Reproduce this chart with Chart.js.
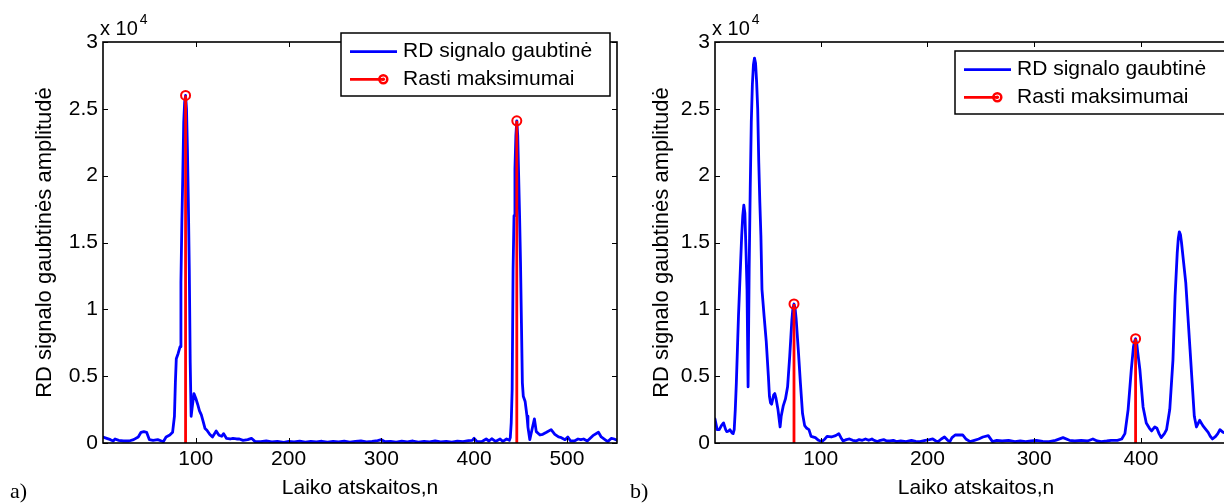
<!DOCTYPE html>
<html><head><meta charset="utf-8">
<script src="https://cdn.jsdelivr.net/npm/chart.js@4.4.0/dist/chart.umd.min.js"></script>
<style>
html,body{margin:0;padding:0;overflow:hidden;background:#fff;width:1224px;height:504px;position:relative;}
#c1{position:absolute;left:0;top:0;}
#c2{position:absolute;left:620px;top:0;}
</style></head><body>
<canvas id="c1" width="620" height="504"></canvas>
<canvas id="c2" width="622" height="504"></canvas>
<script>
// ---- data (amplitude in units of 10^4) ----
const nA = [0,4,8,11,13,17,22,28,33,38,41,44,47,50,54,59,63,65,68,72,75,77,78,79,81,83,84,85,86,87,88,89,90,91,92,93,94,95,96,98,100,102,104,106,108,110,112,115,118,122,125,128,130,133,137,140,144,147,151,156,160,164,170,176,182,188,195,200,206,212,218,224,230,236,242,248,254,260,266,272,278,284,290,296,300,304,310,316,322,328,334,340,346,352,358,364,370,376,382,388,394,398,400,403,408,413,416,419,423,428,431,435,438,439,440,441,442,443,444,445,446,447,448,449,450,451,452,453,455,457,458,460,463,465,467,471,474,478,483,487,491,494,498,501,504,508,512,515,518,522,528,534,537,541,544,548,551,554];
const envA = [0.045,0.035,0.025,0.015,0.03,0.02,0.015,0.015,0.025,0.045,0.08,0.085,0.08,0.025,0.02,0.025,0.015,0.01,0.045,0.06,0.08,0.2,0.45,0.63,0.67,0.72,1.2,1.65,2.0,2.4,2.55,2.6,2.5,2.2,1.8,1.3,0.6,0.2,0.26,0.37,0.335,0.29,0.24,0.21,0.16,0.108,0.095,0.065,0.045,0.09,0.058,0.05,0.07,0.035,0.03,0.035,0.03,0.03,0.02,0.025,0.035,0.01,0.01,0.015,0.008,0.012,0.005,0.012,0.008,0.014,0.006,0.012,0.008,0.013,0.006,0.012,0.008,0.014,0.006,0.012,0.015,0.008,0.012,0.018,0.025,0.01,0.012,0.006,0.014,0.008,0.015,0.006,0.012,0.008,0.015,0.008,0.012,0.006,0.014,0.01,0.018,0.02,0.035,0.012,0.01,0.03,0.015,0.032,0.012,0.03,0.012,0.03,0.02,0.04,0.15,0.4,1.3,1.7,2.05,2.3,2.41,2.3,2.0,1.7,1.35,0.9,0.45,0.35,0.31,0.2,0.12,0.025,0.12,0.18,0.085,0.06,0.065,0.08,0.1,0.065,0.045,0.04,0.025,0.045,0.015,0.015,0.03,0.025,0.03,0.015,0.055,0.08,0.045,0.025,0.01,0.035,0.03,0.02];
const peakNA = [89, 446];
const peakA = [2.6, 2.41];

const nB = [1,3,5,7,9,11,12,14,15,17,18,19,20,21,22,23,24,25,26,27,28,29,30,31,32,33,34,35,36,37,38,39,40,41,42,43,44,45,47,49,51,52,53,54,56,57,58,60,62,63,65,67,69,71,73,74,75,76,77,79,81,83,85,87,89,91,95,98,101,104,106,110,114,117,119,121,124,127,130,133,136,139,142,145,148,150,153,156,159,162,165,168,171,175,180,185,189,193,198,202,205,208,210,213,216,219,221,223,226,230,233,236,240,244,248,252,257,261,265,270,276,282,287,292,297,302,308,314,320,327,333,338,344,350,355,359,363,368,372,378,382,385,388,391,393,394,395,396,397,399,402,405,408,410,413,415,417,419,422,424,427,430,432,434,435,436,437,438,440,442,444,446,448,450,452,455,458,460,463,465,467,470,472,474,477,480];
const envB = [0.18,0.1,0.1,0.13,0.15,0.1,0.085,0.09,0.1,0.075,0.07,0.1,0.25,0.45,0.7,0.95,1.15,1.35,1.55,1.7,1.78,1.72,1.45,1.15,0.42,1.3,1.9,2.4,2.68,2.83,2.88,2.84,2.7,2.5,2.1,1.8,1.55,1.15,0.95,0.76,0.5,0.35,0.3,0.29,0.36,0.37,0.34,0.25,0.12,0.2,0.28,0.33,0.42,0.65,0.92,1.01,1.04,1.01,0.93,0.7,0.45,0.22,0.13,0.11,0.1,0.05,0.04,0.02,0.01,0.03,0.05,0.045,0.055,0.07,0.04,0.015,0.025,0.03,0.02,0.015,0.025,0.02,0.03,0.02,0.03,0.02,0.01,0.02,0.025,0.015,0.015,0.02,0.01,0.015,0.01,0.02,0.012,0.01,0.02,0.025,0.03,0.015,0.01,0.03,0.045,0.02,0.01,0.04,0.06,0.06,0.06,0.03,0.01,0.02,0.03,0.045,0.055,0.01,0.02,0.015,0.02,0.01,0.015,0.01,0.015,0.02,0.012,0.01,0.02,0.04,0.02,0.015,0.02,0.015,0.03,0.015,0.01,0.015,0.02,0.02,0.03,0.07,0.25,0.55,0.72,0.76,0.78,0.75,0.68,0.55,0.27,0.15,0.11,0.09,0.12,0.11,0.07,0.04,0.07,0.1,0.25,0.62,1.1,1.42,1.53,1.58,1.56,1.5,1.35,1.2,0.95,0.7,0.45,0.2,0.12,0.17,0.13,0.11,0.08,0.05,0.03,0.05,0.07,0.1,0.08,0.07];
const peakNB = [75, 395];
const peakB = [1.04, 0.78];

const xTicks = [100, 200, 300, 400, 500];
const yTicks = [0, 0.5, 1, 1.5, 2, 2.5, 3];
const seriesNames = ['RD signalo gaubtinė', 'Rasti maksimumai'];
const xTitle = 'Laiko atskaitos,n';
const yTitle = 'RD signalo gaubtinės amplitudė';
const panelLabels = ['a)', 'b)'];

const FONT = "'Liberation Sans', Arial, sans-serif";
const BLUE = '#0000ff', RED = '#ff0000';

function stemData(ns, vs) {
  const out = [];
  ns.forEach((n, i) => { out.push({x:n, y:0}); out.push({x:n, y:vs[i]}); out.push({x:n, y:null}); });
  return out;
}

const matlabAxes = {
  id: 'matlabAxes',
  afterDraw(chart, args, o) {
    const {ctx, chartArea: a, scales: {x, y}} = chart;
    ctx.save();
    ctx.strokeStyle = '#000'; ctx.lineWidth = 1;
    ctx.beginPath();
    xTicks.forEach(v => {
      if (v < x.min || v > x.max) return;
      const px = Math.round(x.getPixelForValue(v)) + 0.5;
      ctx.moveTo(px, a.bottom); ctx.lineTo(px, a.bottom - 5);
      ctx.moveTo(px, a.top); ctx.lineTo(px, a.top + 5);
    });
    yTicks.forEach(v => {
      const py = Math.round(y.getPixelForValue(v)) + 0.5;
      ctx.moveTo(a.left, py); ctx.lineTo(a.left + 5, py);
      ctx.moveTo(a.right, py); ctx.lineTo(a.right - 5, py);
    });
    ctx.stroke();
    ctx.lineWidth = 1.6;
    ctx.strokeRect(a.left, a.top, a.right - a.left, a.bottom - a.top);
    ctx.fillStyle = '#000';
    ctx.textBaseline = 'alphabetic'; ctx.textAlign = 'left';
    ctx.font = '20px ' + FONT;
    const ex = a.left - 3;
    ctx.fillText('x 10', ex, 35);
    const w = ctx.measureText('x 10').width;
    ctx.font = '14px ' + FONT;
    ctx.fillText('4', ex + w + 2, 24);
    ctx.font = "22px 'Liberation Serif', 'Times New Roman', serif";
    ctx.fillText(o.panel, 10, 498);
    const b = o.box;
    ctx.fillStyle = '#fff';
    ctx.fillRect(b.x, b.y, b.w, b.h);
    ctx.lineWidth = 1.5; ctx.strokeStyle = '#000';
    ctx.strokeRect(b.x, b.y, b.w, b.h);
    const r1 = b.y + 18.7, r2 = b.y + 46.3;
    ctx.lineWidth = 2.8;
    ctx.strokeStyle = BLUE;
    ctx.beginPath(); ctx.moveTo(b.x + 9, r1); ctx.lineTo(b.x + 56, r1); ctx.stroke();
    ctx.strokeStyle = RED;
    ctx.beginPath(); ctx.moveTo(b.x + 9, r2); ctx.lineTo(b.x + 42, r2); ctx.stroke();
    ctx.lineWidth = 2.5;
    ctx.beginPath(); ctx.arc(b.x + 42.3, r2, 4, 0, Math.PI * 2); ctx.stroke();
    ctx.fillStyle = RED;
    ctx.beginPath(); ctx.arc(b.x + 42.3, r2, 1.8, 0, Math.PI * 2); ctx.fill();
    ctx.fillStyle = '#000';
    ctx.font = '21px ' + FONT;
    ctx.textBaseline = 'middle';
    ctx.fillText(seriesNames[0], b.x + 62, r1);
    ctx.fillText(seriesNames[1], b.x + 62, r2);
    ctx.restore();
  }
};

function makeChart(id, ns, vals, pN, pV, cfg) {
  const line = ns.map((n, i) => ({x: n, y: vals[i]}));
  return new Chart(document.getElementById(id), {
    type: 'line',
    data: {
      datasets: [
        {
          label: seriesNames[1], data: stemData(pN, pV), order: 0,
          borderColor: RED, borderWidth: 2.8, spanGaps: false,
          pointRadius: c => (c.raw && c.raw.y > 0) ? 4.5 : 0,
          pointBorderColor: RED, pointBorderWidth: 2, pointBackgroundColor: 'rgba(0,0,0,0)',
          tension: 0
        },
        {
          label: seriesNames[0], data: line, order: 1,
          borderColor: BLUE, borderWidth: 2.8, pointRadius: 0, tension: 0,
          borderJoinStyle: 'round', borderCapStyle: 'round'
        }
      ]
    },
    options: {
      responsive: false, animation: false, devicePixelRatio: 1,
      layout: {padding: {left: 0, top: 42, right: cfg.padRight, bottom: 0}},
      plugins: {
        legend: {display: false}, tooltip: {enabled: false},
        matlabAxes: {box: cfg.box, panel: cfg.panel}
      },
      scales: {
        x: {
          type: 'linear', min: cfg.xmin, max: cfg.xmax,
          grid: {display: false, drawTicks: false}, border: {display: false},
          afterBuildTicks: s => { s.ticks = xTicks.filter(v => v >= s.min && v <= s.max).map(v => ({value: v})); },
          afterFit: s => { s.height = 61; },
          ticks: {color: '#000', font: {family: FONT, size: 21}, padding: 4, maxRotation: 0, callback: v => String(v)},
          title: {display: true, text: xTitle, color: '#000', font: {family: FONT, size: 21}, padding: {top: 0, bottom: 3}}
        },
        y: {
          type: 'linear', min: 0, max: 3,
          grid: {display: false, drawTicks: false}, border: {display: false},
          afterBuildTicks: s => { s.ticks = yTicks.map(v => ({value: v})); },
          afterFit: s => { s.width = cfg.yWidth; },
          ticks: {color: '#000', font: {family: FONT, size: 21}, padding: 5, callback: v => String(v)},
          title: {display: true, text: yTitle, color: '#000', font: {family: FONT, size: 22}, padding: {top: cfg.yTitlePad, bottom: 0}}
        }
      }
    },
    plugins: [matlabAxes]
  });
}

makeChart('c1', nA, envA, peakNA, peakA, {
  xmin: 0, xmax: 554, yWidth: 103, padRight: 3, yTitlePad: 32,
  box: {x: 341, y: 33, w: 269, h: 63}, panel: panelLabels[0]
});
makeChart('c2', nB, envB, peakNB, peakB, {
  xmin: 1, xmax: 490, yWidth: 95, padRight: 5, yTitlePad: 29,
  box: {x: 335, y: 51, w: 275, h: 63}, panel: panelLabels[1]
});
</script>
</body></html>
